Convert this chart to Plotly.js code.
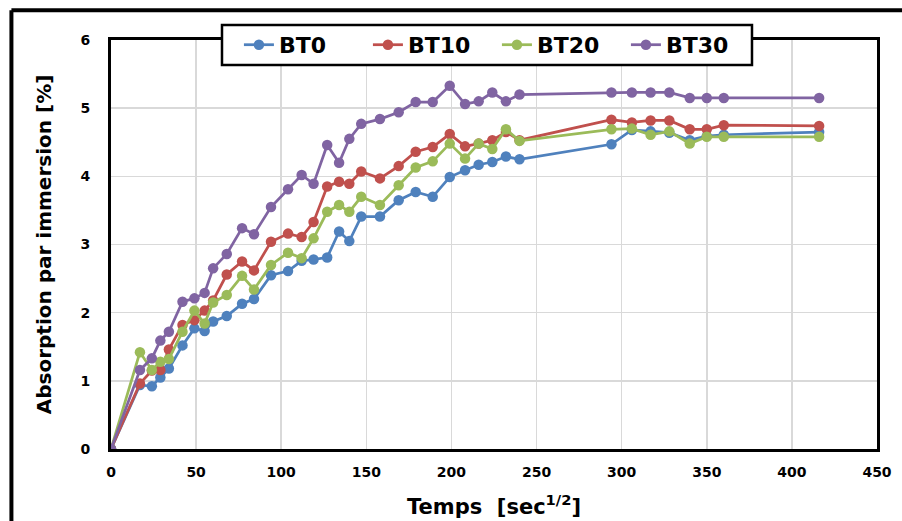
<!DOCTYPE html>
<html>
<head>
<meta charset="utf-8">
<script src="https://cdn.plot.ly/plotly-3.0.1.min.js"></script>
<style>
html,body{margin:0;padding:0;background:#fff;}
#chart{width:902px;height:521px;}
</style>
</head>
<body>
<div id="chart"></div>
<script>
// time [sec^1/2]
const temps = [0, 17, 24, 29, 34, 42, 49, 55, 60, 68, 77, 84, 94, 104, 112, 119, 127, 134, 140, 147, 158, 169, 179, 189, 199, 208, 216, 224, 232, 240, 294, 306, 317, 328, 340, 350, 360, 416];
const BT0  = [0, 0.94, 0.92, 1.05, 1.18, 1.52, 1.77, 1.73, 1.87, 1.95, 2.13, 2.20, 2.55, 2.61, 2.76, 2.78, 2.81, 3.19, 3.05, 3.41, 3.41, 3.65, 3.77, 3.70, 3.99, 4.09, 4.17, 4.21, 4.29, 4.25, 4.47, 4.68, 4.66, 4.64, 4.53, 4.59, 4.61, 4.65];
const BT10 = [0, 0.96, 1.15, 1.16, 1.46, 1.82, 1.89, 2.03, 2.18, 2.56, 2.75, 2.62, 3.04, 3.16, 3.11, 3.33, 3.85, 3.92, 3.89, 4.07, 3.97, 4.15, 4.36, 4.43, 4.62, 4.44, 4.48, 4.53, 4.65, 4.53, 4.83, 4.79, 4.82, 4.82, 4.69, 4.69, 4.75, 4.74];
const BT20 = [0, 1.42, 1.16, 1.28, 1.32, 1.72, 2.03, 1.84, 2.15, 2.26, 2.54, 2.34, 2.70, 2.88, 2.80, 3.09, 3.48, 3.58, 3.48, 3.70, 3.58, 3.87, 4.13, 4.22, 4.48, 4.26, 4.48, 4.40, 4.69, 4.52, 4.69, 4.70, 4.61, 4.66, 4.48, 4.58, 4.58, 4.58];
const BT30 = [0, 1.16, 1.33, 1.59, 1.72, 2.16, 2.21, 2.29, 2.65, 2.86, 3.24, 3.15, 3.55, 3.81, 4.02, 3.89, 4.46, 4.20, 4.55, 4.77, 4.84, 4.94, 5.09, 5.09, 5.33, 5.06, 5.10, 5.23, 5.10, 5.20, 5.23, 5.23, 5.23, 5.23, 5.15, 5.15, 5.15, 5.15];
const seriesNames = ["BT0", "BT10", "BT20", "BT30"];
const seriesColors = ["#4F81BD", "#C0504D", "#9BBB59", "#8064A2"];
const xTicks = [0, 50, 100, 150, 200, 250, 300, 350, 400, 450];
const yTicks = [0, 1, 2, 3, 4, 5, 6];

const allY = [BT0, BT10, BT20, BT30];
const traces = allY.map((ys, i) => ({
  x: temps, y: ys, name: seriesNames[i], type: "scatter", mode: "lines+markers",
  line: {color: seriesColors[i], width: 2.75},
  marker: {color: seriesColors[i], size: 10.5}
}));

const F = "DejaVu Sans, Liberation Sans, Arial, sans-serif";
const layout = {
  width: 902, height: 521,
  margin: {l: 111, r: 25, t: 40, b: 72, autoexpand: false},
  paper_bgcolor: "#fff", plot_bgcolor: "#fff",
  font: {family: F, color: "#000"},
  showlegend: true,
  legend: {
    orientation: "h", x: 0.167, y: 0.988, xanchor: "left", yanchor: "middle",
    bgcolor: "rgba(0,0,0,0)", borderwidth: 0,
    font: {family: F, size: 22, color: "#000", weight: "bold"},
    itemwidth: 30, entrywidth: 84, entrywidthmode: "pixels"
  },
  xaxis: {
    range: [0, 450], tickvals: xTicks, ticktext: xTicks.map(String),
    showgrid: true, gridcolor: "#d9d9d9", gridwidth: 1.5, zeroline: false,
    showline: true, linecolor: "#000", linewidth: 3, mirror: true,
    ticks: "", ticklabelstandoff: 8,
    tickfont: {family: F, size: 14, color: "#000", weight: "bold"},
    title: {text: "Temps  [sec<sup>1/2</sup>]", font: {family: F, size: 21, color: "#000", weight: "bold"}, standoff: 21}
  },
  yaxis: {
    range: [0, 6], tickvals: yTicks, ticktext: yTicks.map(String),
    showgrid: true, gridcolor: "#d9d9d9", gridwidth: 1.5, zeroline: false,
    showline: true, linecolor: "#000", linewidth: 3, mirror: true,
    ticks: "", ticklabelstandoff: 15,
    tickfont: {family: F, size: 14, color: "#000", weight: "bold"},
    title: {text: "Absorption par immersion [%]", font: {family: F, size: 20, color: "#000", weight: "bold"}, standoff: 24}
  },
  shapes: [
    {type: "line", xref: "paper", yref: "paper", x0: -0.13, x1: -0.13, y0: -0.2, y1: 1.073, line: {color: "#000", width: 4}},
    {type: "line", xref: "paper", yref: "paper", x0: -0.13, x1: 1.1, y0: 1.073, y1: 1.073, line: {color: "#000", width: 4}},
    {type: "rect", xref: "paper", yref: "paper", layer: "above", x0: 0.1449, x1: 0.8368, y0: 0.9389, y1: 1.0367,
     fillcolor: "#fff", line: {color: "#000", width: 2.5}}
  ]
};

Plotly.newPlot("chart", traces, layout, {displayModeBar: false, staticPlot: true});
</script>
</body>
</html>
